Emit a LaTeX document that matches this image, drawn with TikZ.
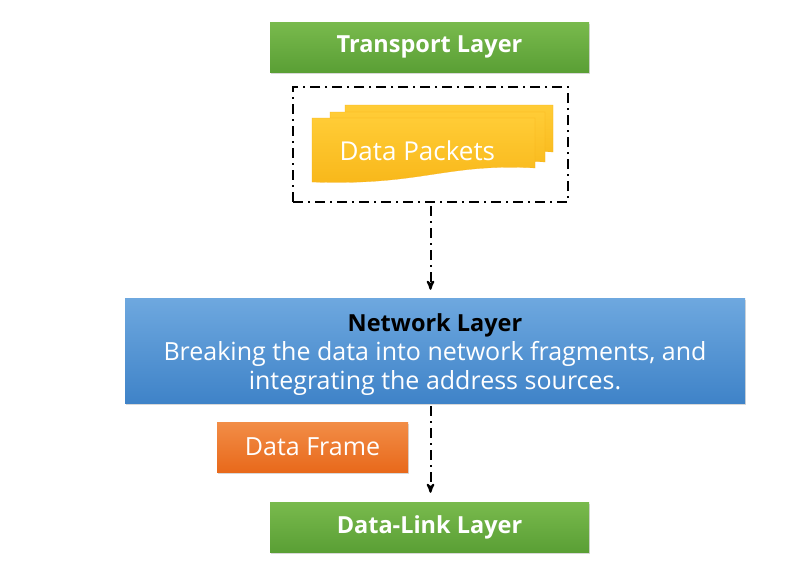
\documentclass[tikz,border=0pt]{standalone}
\usepackage{fontspec}
\setmainfont{Open Sans}
\usetikzlibrary{arrows}
\usetikzlibrary{shadows}
\definecolor{greentop}{HTML}{79BA4D}
\definecolor{greenbot}{HTML}{5A9F35}
\definecolor{bluetop}{HTML}{6EA8DF}
\definecolor{bluebot}{HTML}{3F83C8}
\definecolor{orangetop}{HTML}{F28D47}
\definecolor{orangebot}{HTML}{E8691B}
\definecolor{yellowtop}{HTML}{FFCC36}
\definecolor{yellowbot}{HTML}{F8B719}
\tikzset{
 boxshadow/.style={drop shadow={shadow xshift=1pt, shadow yshift=-2pt, opacity=.3}},
 layerbox/.style={minimum width=319pt, minimum height=50pt, inner sep=0pt, top color=greentop, bottom color=greenbot, text=white, font=\fontsize{23.5}{27}\selectfont\bfseries, boxshadow},
 dashdot/.style={draw=black, line width=2pt, dash pattern=on 10pt off 5pt on 2pt off 5pt},
}
\begin{document}
\begin{tikzpicture}[x=1pt,y=-1pt]
\useasboundingbox[fill=white] (0,0) rectangle (805,571);
% layers
\node[layerbox] (transport) at (429.5,47) {Transport Layer};
\node[layerbox] (datalink) at (429.5,527) {Data-Link Layer};
% packets
\node[dashdot, minimum width=275pt, minimum height=115pt, inner sep=0pt] (packbox) at (430.5,144.5) {};
\foreach \l/\t/\r/\b in {345/105/553/152, 330/112/545/162, 312/118/535/168}
 \path[top color=yellowtop, bottom color=yellowbot, draw=yellowbot!90!orange, line width=.2pt]
  (\l,\t) -- (\r,\t) -- (\r,\b) .. controls (\r-90,\b-5) and (\l+110,\b+18) .. (\l,\b+14) -- cycle;
\node[text=white, font=\fontsize{26}{30}\selectfont, anchor=west] (packets) at (336,151) {Data Packets};
% network
\node[minimum width=620pt, minimum height=105pt, inner sep=0pt, top color=bluetop, bottom color=bluebot, boxshadow] (net) at (435,350.5) {};
\node[align=center, text=white, font=\fontsize{25}{29}\selectfont, yshift=-4pt] (nettext) at (net.center)
 {\textcolor{black}{\fontsize{23.5}{29}\selectfont\bfseries Network Layer}\\Breaking the data into network fragments, and\\integrating the address sources.};
\node[minimum width=191pt, minimum height=50pt, inner sep=0pt, top color=orangetop, bottom color=orangebot, text=white, font=\fontsize{25}{29}\selectfont, boxshadow] (frame) at (312.5,447) {Data Frame};
% arrows
\draw[dashdot, ->, >=stealth', shorten <=3pt, shorten >=8pt] (packbox.south) -- (packbox.south |- net.north);
\draw[dashdot, ->, >=stealth', shorten <=3pt, shorten >=9pt] (net.south -| packbox.south) -- (packbox.south |- datalink.north);
\end{tikzpicture}
\end{document}
